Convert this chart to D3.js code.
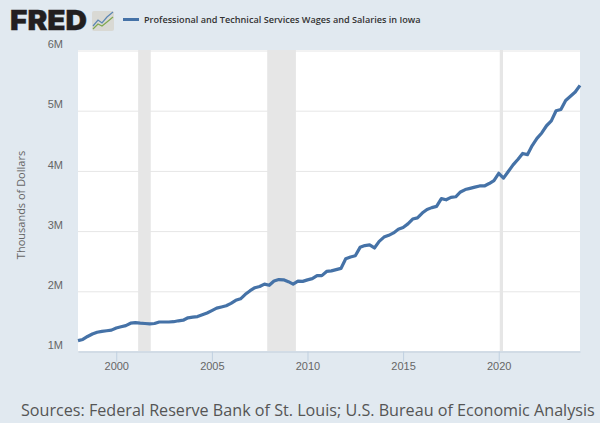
<!DOCTYPE html>
<html>
<head>
<meta charset="utf-8">
<script src="https://cdn.jsdelivr.net/npm/d3@7"></script>
<style>
  html, body { margin: 0; padding: 0; background: #e1e9f0; }
  svg { display: block; font-family: "Open Sans", sans-serif; }
</style>
</head>
<body>
<svg id="chart" width="600" height="423"></svg>
<script>
const seriesName = "Professional and Technical Services Wages and Salaries in Iowa";
const yAxisLabel = "Thousands of Dollars";
const sourceText = "Sources: Federal Reserve Bank of St. Louis; U.S. Bureau of Economic Analysis";

const firstYear = 1998;
// quarterly, millions of (thousands of) dollars, 1998 Q1 .. 2024 Q2
const wages = [
  1.18, 1.20, 1.25, 1.29,
  1.32, 1.335, 1.345, 1.355,
  1.39, 1.41, 1.43, 1.47,
  1.48, 1.47, 1.465, 1.46,
  1.465, 1.49, 1.49, 1.49,
  1.495, 1.51, 1.52, 1.56,
  1.57, 1.58, 1.61, 1.64,
  1.68, 1.72, 1.74, 1.76,
  1.80, 1.85, 1.875, 1.95,
  2.01, 2.06, 2.08, 2.12,
  2.10, 2.17, 2.195, 2.19,
  2.16, 2.12, 2.17, 2.165,
  2.19, 2.21, 2.26, 2.26,
  2.33, 2.34, 2.36, 2.38,
  2.54, 2.57, 2.59, 2.73,
  2.76, 2.77, 2.72, 2.83,
  2.90, 2.93, 2.97, 3.03,
  3.06, 3.12, 3.20, 3.22,
  3.30, 3.36, 3.39, 3.41,
  3.54, 3.52, 3.56, 3.57,
  3.65, 3.69, 3.71, 3.73,
  3.75, 3.75, 3.79, 3.84,
  3.96, 3.88, 3.99, 4.10,
  4.19, 4.29, 4.27, 4.42,
  4.54, 4.63, 4.75, 4.83,
  5.00, 5.02, 5.17, 5.24,
  5.31, 5.42
];

const recessionStarts = [2001.17, 2007.92, 2020.08];
const recessionEnds = [2001.83, 2009.42, 2020.25];
const xTicks = [2000, 2005, 2010, 2015, 2020];
const yTicks = [1, 2, 3, 4, 5, 6];

const margin = {top: 50, right: 20, bottom: 72, left: 78};
const width = 600 - margin.left - margin.right;
const height = 423 - margin.top - margin.bottom;

const svg = d3.select("#chart");
const g = svg.append("g").attr("transform", "translate(" + margin.left + "," + margin.top + ")");

const x = d3.scaleLinear().domain([firstYear, firstYear + (wages.length - 1) / 4]).range([0, width]);
const y = d3.scaleLinear().domain([1, 6]).range([height + 0.5, 0.5]);

g.append("rect").attr("width", width).attr("height", height).attr("fill", "#fff");

// recession bands
g.selectAll(".recession")
  .data(recessionStarts)
  .enter()
  .append("rect")
  .attr("class", "recession")
  .attr("x", d => x(d) - 0.5)
  .attr("width", (d, i) => x(recessionEnds[i]) - x(d))
  .attr("y", 0)
  .attr("height", height)
  .attr("fill", "#e6e6e6");

// grid lines + y labels
const yAxis = g.append("g")
  .call(d3.axisLeft(y).tickValues(yTicks).tickSize(-width).tickFormat(d => d + "M"));
yAxis.select(".domain").remove();
yAxis.selectAll(".tick line").attr("stroke", "#e6e6e6");
yAxis.selectAll(".tick text")
  .attr("x", -15)
  .attr("dy", "-0.25em")
  .attr("fill", "#666")
  .style("font-size", "11px");

// the data line
const line = d3.line()
  .x((d, i) => x(firstYear + i / 4))
  .y(d => y(d));

g.append("path")
  .datum(wages)
  .attr("fill", "none")
  .attr("stroke", "#4572a7")
  .attr("stroke-width", 3.2)
  .attr("stroke-linejoin", "round")
  .attr("d", line);

// x axis
const xAxis = g.append("g")
  .attr("transform", "translate(0," + (height + 0.5) + ")")
  .call(d3.axisBottom(x).tickValues(xTicks).tickSize(10).tickSizeOuter(0).tickFormat(d3.format("d")));
xAxis.select(".domain").attr("stroke", "#c0d0e0");
xAxis.selectAll(".tick line").attr("stroke", "#c0d0e0");
xAxis.selectAll(".tick text")
  .attr("y", 11)
  .attr("dy", "0.71em")
  .attr("fill", "#666")
  .style("font-size", "11px");

// y axis title
svg.append("text")
  .attr("transform", "translate(25,205) rotate(-90)")
  .attr("text-anchor", "middle")
  .attr("fill", "#666")
  .style("font-size", "11px")
  .text(yAxisLabel);

// legend
svg.append("line")
  .attr("x1", 123).attr("x2", 139)
  .attr("y1", 19.5).attr("y2", 19.5)
  .attr("stroke", "#4572a7")
  .attr("stroke-width", 3);
svg.append("text")
  .attr("x", 144)
  .attr("y", 23)
  .attr("fill", "#333")
  .style("font-size", "9.15px")
  .style("font-weight", 600)
  .text(seriesName);

// source line
svg.append("text")
  .attr("x", 21)
  .attr("y", 416)
  .attr("fill", "#555")
  .style("font-size", "16.15px")
  .text(sourceText);

// FRED logo
svg.append("text")
  .attr("x", 10)
  .attr("y", 30)
  .attr("fill", "#231f20")
  .attr("stroke", "#231f20")
  .attr("stroke-width", 0.4)
  .attr("textLength", 77)
  .attr("lengthAdjust", "spacingAndGlyphs")
  .style("font-family", "Inter, sans-serif")
  .style("font-size", "27.5px")
  .style("font-weight", 900)
  .text("FRED");

const icon = svg.append("g").attr("transform", "translate(92,11)");
icon.append("rect").attr("width", 22).attr("height", 20).attr("rx", 2).attr("fill", "#d9d9d4");
icon.append("path").attr("d", "M1,15 L6,9 L10,12 L15,6 L21,1").attr("fill", "none").attr("stroke", "#5b86b3").attr("stroke-width", 1.2);
icon.append("path").attr("d", "M1,18 L6,13 L10,15 L15,11 L21,6").attr("fill", "none").attr("stroke", "#7fa84f").attr("stroke-width", 1.2);
</script>
</body>
</html>
